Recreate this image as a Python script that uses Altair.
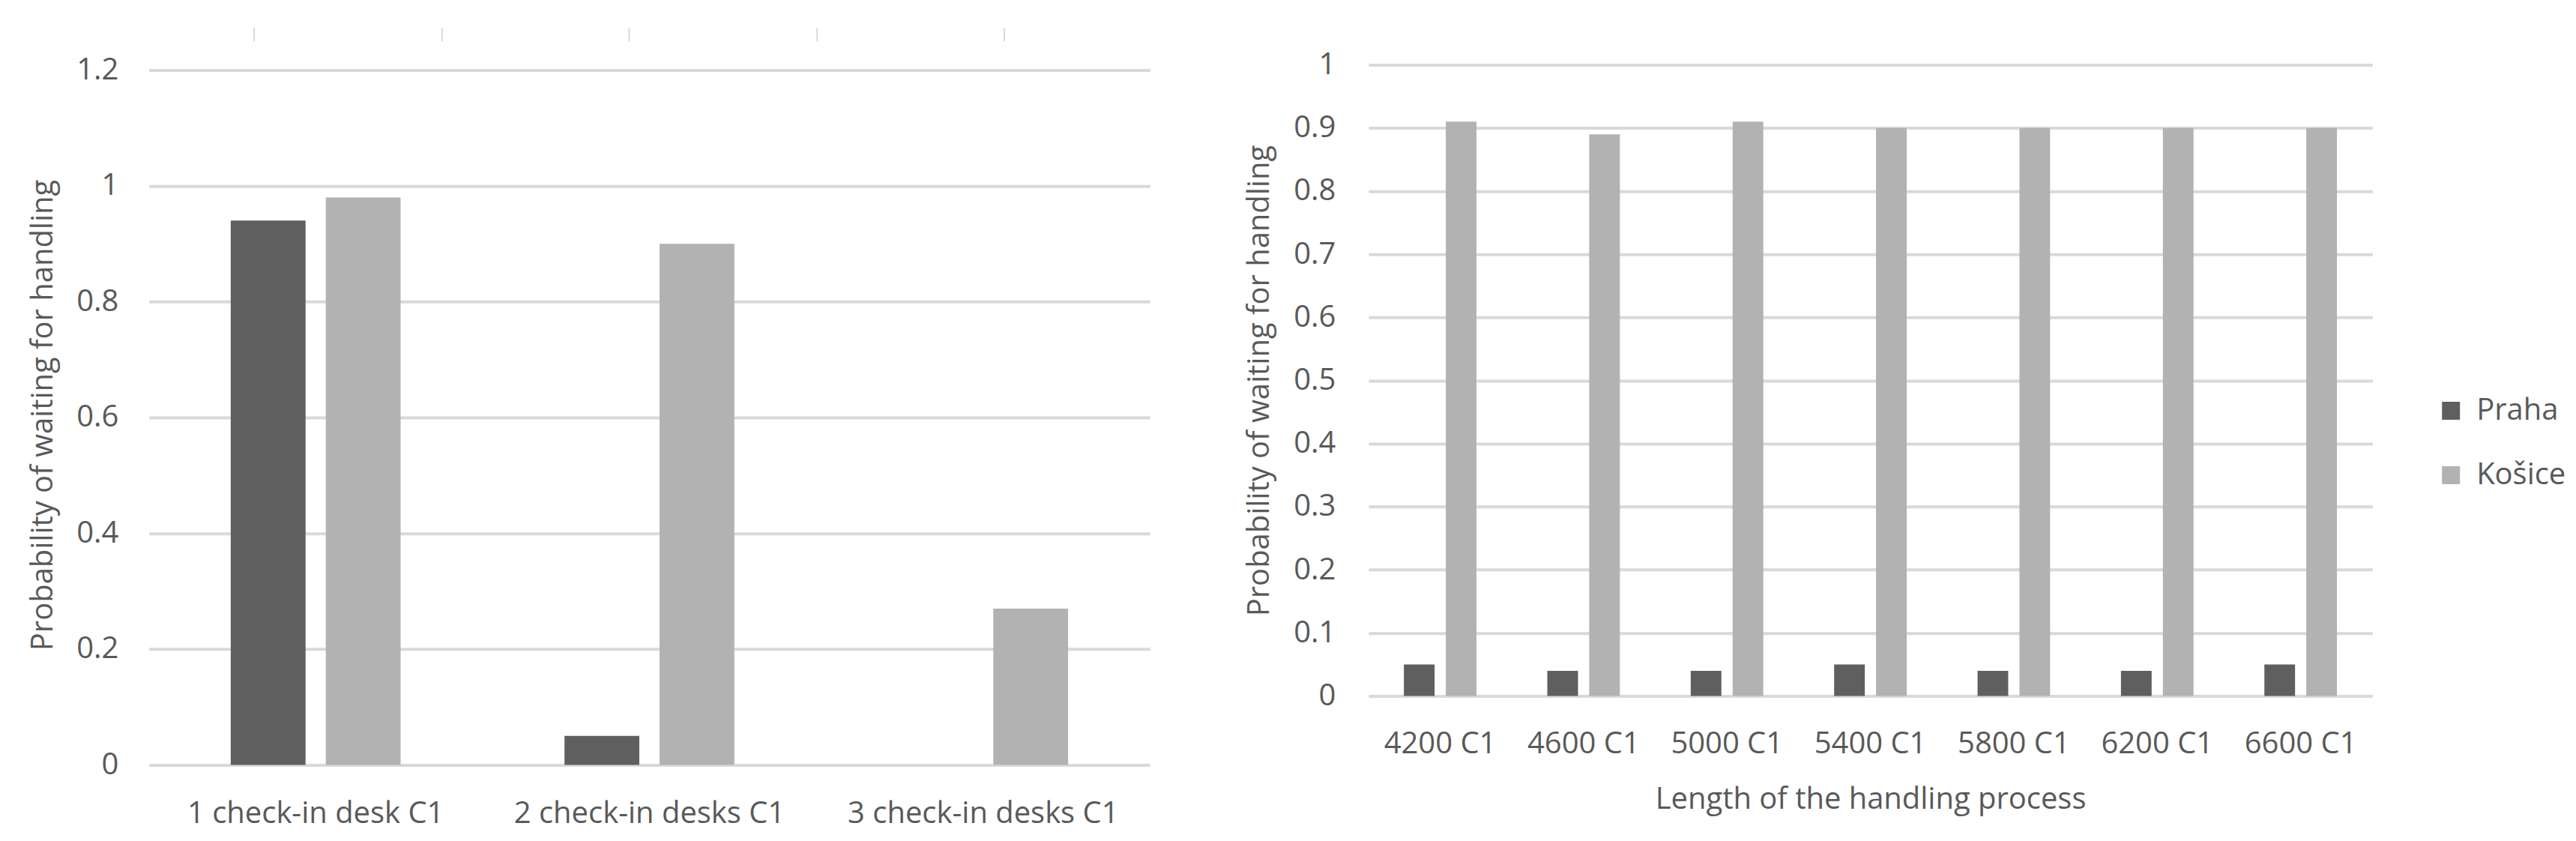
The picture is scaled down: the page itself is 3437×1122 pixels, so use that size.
import altair as alt
import pandas as pd

series = ["Praha", "Košice"]
series_colors = ["#5f5f5f", "#b2b2b2"]

left_categories = ["1 check-in desk C1", "2 check-in desks C1", "3 check-in desks C1"]
left_praha = [0.94, 0.05, 0.0]
left_kosice = [0.98, 0.90, 0.27]
left_ticks = [0, 0.2, 0.4, 0.6, 0.8, 1, 1.2]

right_categories = ["4200 C1", "4600 C1", "5000 C1", "5400 C1", "5800 C1", "6200 C1", "6600 C1"]
right_praha = [0.05, 0.04, 0.04, 0.05, 0.04, 0.04, 0.05]
right_kosice = [0.91, 0.89, 0.91, 0.90, 0.90, 0.90, 0.90]
right_ticks = [0, 0.1, 0.2, 0.3, 0.4, 0.5, 0.6, 0.7, 0.8, 0.9, 1]

top_marks = [0, 1, 2, 3, 4]

TEXT = "#595959"
GRID = "#d9d9d9"
FONT = "Open Sans"


def long_df(cats, a, b):
    rows = []
    for c, va, vb in zip(cats, a, b):
        rows.append({"category": c, "series": series[0], "value": va})
        rows.append({"category": c, "series": series[1], "value": vb})
    return pd.DataFrame(rows)


left_df = long_df(left_categories, left_praha, left_kosice)
right_df = long_df(right_categories, right_praha, right_kosice)

left_bars = alt.Chart(left_df).mark_bar().encode(
    x=alt.X("category:N", sort=left_categories, title=None,
            scale=alt.Scale(paddingInner=0.491, paddingOuter=0.245),
            axis=alt.Axis(labelAngle=0, ticks=False, domain=False, labelPadding=45, grid=False,
                          labelLimit=1000)),
    xOffset=alt.XOffset("series:N", sort=series, scale=alt.Scale(paddingInner=0.213, paddingOuter=0)),
    y=alt.Y("value:Q", scale=alt.Scale(domain=[0, 1.209], nice=False),
            axis=alt.Axis(values=left_ticks, format="~g", title="Probability of waiting for handling",
                          ticks=False, domain=False, labelPadding=41, titlePadding=24)),
    color=alt.Color("series:N", sort=series,
                    scale=alt.Scale(domain=series, range=series_colors), legend=None),
)

top_layer = alt.Chart(pd.DataFrame({"t": top_marks})).mark_point(opacity=0).encode(
    x=alt.X("t:Q", scale=alt.Scale(domain=[-0.559, 4.778], nice=False, zero=False),
            axis=alt.Axis(orient="top", values=top_marks, labels=False, domain=False, grid=False,
                          ticks=True, tickSize=18, tickWidth=2, tickColor=GRID, offset=32, title=None)),
    y=alt.value(0),
)

left = alt.layer(left_bars, top_layer).resolve_scale(x="independent").properties(width=1337, height=935)

right = alt.Chart(right_df).mark_bar().encode(
    x=alt.X("category:N", sort=right_categories, title="Length of the handling process",
            scale=alt.Scale(paddingInner=0.494, paddingOuter=0.247),
            axis=alt.Axis(labelAngle=0, ticks=False, domain=False, labelPadding=44, titlePadding=34,
                          grid=False, labelLimit=1000)),
    xOffset=alt.XOffset("series:N", sort=series, scale=alt.Scale(paddingInner=0.268, paddingOuter=0)),
    y=alt.Y("value:Q", scale=alt.Scale(domain=[0, 1], nice=False),
            axis=alt.Axis(values=right_ticks, format="~g", title="Probability of waiting for handling",
                          ticks=False, domain=False, labelPadding=44, titlePadding=25)),
    color=alt.Color("series:N", sort=series,
                    scale=alt.Scale(domain=series, range=series_colors),
                    legend=alt.Legend(title=None, orient="none", legendX=1426, legendY=442,
                                      symbolType="square", symbolSize=576, symbolStrokeWidth=0,
                                      labelFontSize=40, labelColor=TEXT, labelFont=FONT,
                                      rowPadding=46, labelOffset=14)),
).properties(width=1341, height=843)

chart = alt.hconcat(left, right, spacing=292).resolve_scale(
    color="independent", xOffset="independent"
).properties(
    bounds="flush",
    padding={"left": 29, "top": 27, "right": 5, "bottom": 5},
).configure_axis(
    labelFont=FONT, labelFontSize=40, labelColor=TEXT,
    titleFont=FONT, titleFontSize=40, titleColor=TEXT, titleFontWeight="normal",
    gridColor=GRID, gridWidth=4,
).configure_view(stroke=None)

chart.save("out.html", embed_options={"renderer": "svg", "actions": False})
